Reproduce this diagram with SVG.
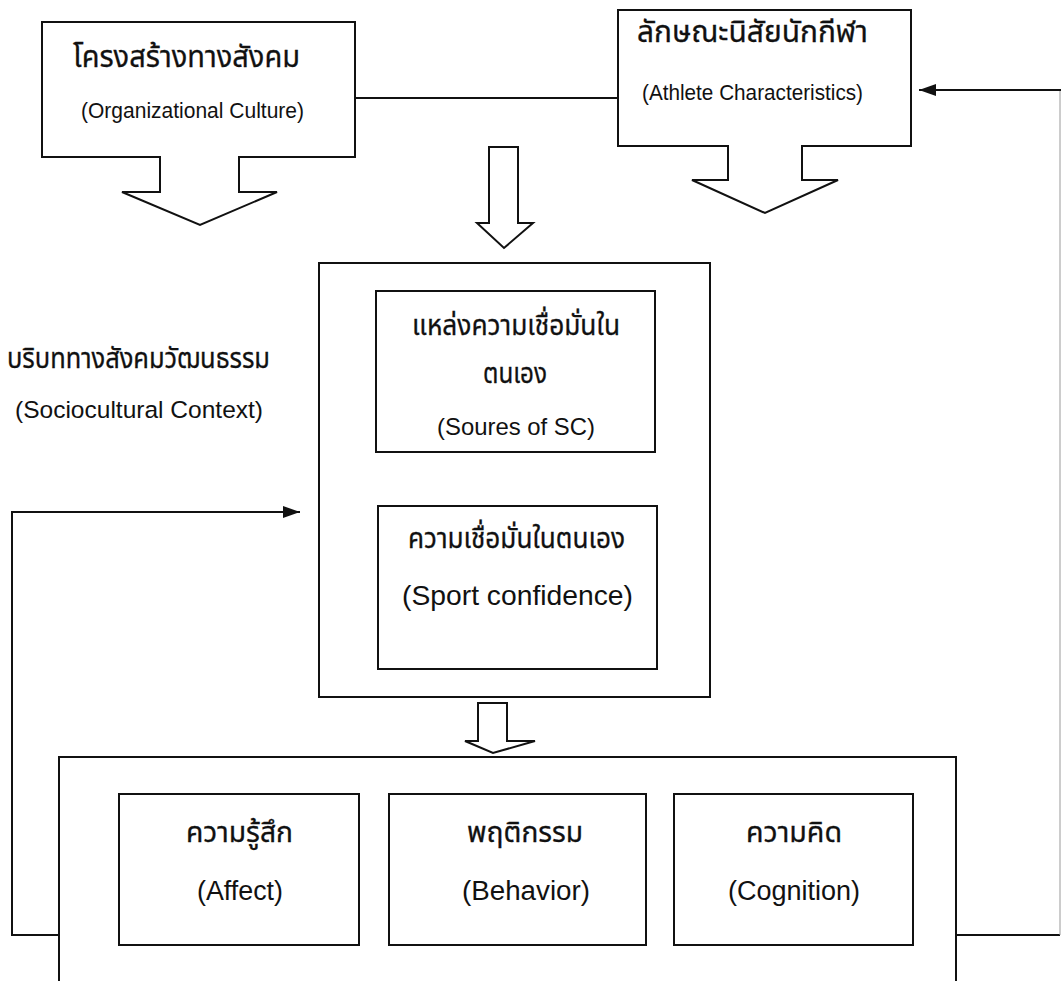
<svg xmlns="http://www.w3.org/2000/svg" width="1061" height="981" viewBox="0 0 1061 981">
<defs>
<style>
.box{fill:#fff;stroke:#111;stroke-width:2}
.ln{fill:none;stroke:#111;stroke-width:2}
.th{font-family:"Noto Sans Thai","Noto Sans","DejaVu Sans","Liberation Sans",sans-serif;fill:#111;stroke:#111;stroke-width:0.3}
.en{font-family:"Liberation Sans",Arial,sans-serif;fill:#111}
</style>
<marker id="ah" markerWidth="17" markerHeight="12" refX="17" refY="6" orient="auto" markerUnits="userSpaceOnUse">
<path d="M0,0 L17,6 L0,12 Z" fill="#111"/>
</marker>
</defs>
<rect width="1061" height="981" fill="#fff"/>

<g id="connectors">
<line class="ln" x1="355" y1="98" x2="618" y2="98"/>
<polyline class="ln" points="59,935 12,935 12,512 300,512" marker-end="url(#ah)"/>
<polyline class="ln" points="956,935 1060,935" />
<polyline class="ln" points="1060,935 1060,90" style="stroke:#999;stroke-width:1"/>
<line class="ln" x1="1061" y1="90" x2="919" y2="90" marker-end="url(#ah)"/>
<path id="arrow-top" class="box" d="M489,147 H518 V223 H533 L504,248 L477,223 H489 Z"/>
<path id="arrow-mid" class="box" d="M494,459 H521 V492 H535 L507,503 L478,492 H494 Z"/>
<path id="arrow-low" class="box" d="M478,703 H507 V741 H535 L493,753 L465,741 H478 Z"/>
</g>

<g id="org-culture">
<path class="box" d="M42,22 H355 V157 H239 V192 H277 L200,225 L122,192 H160 V157 H42 Z"/>
<text class="th" x="73" y="67" font-size="31" textLength="227" lengthAdjust="spacingAndGlyphs">โครงสร้างทางสังคม</text>
<text class="en" x="81" y="118" font-size="21.5" textLength="223" lengthAdjust="spacingAndGlyphs">(Organizational Culture)</text>
</g>

<g id="athlete">
<path class="box" d="M618,10 H911 V146 H802 V180 H838 L765,213 L692,180 H728 V146 H618 Z"/>
<text class="th" x="637" y="42" font-size="31" textLength="231" lengthAdjust="spacingAndGlyphs">ลักษณะนิสัยนักกีฬา</text>
<text class="en" x="642" y="100" font-size="21.5" textLength="221" lengthAdjust="spacingAndGlyphs">(Athlete Characteristics)</text>
</g>

<g id="sociocultural">
<text class="th" x="7" y="368" font-size="28" textLength="263" lengthAdjust="spacingAndGlyphs">บริบททางสังคมวัฒนธรรม</text>
<text class="en" x="15" y="418" font-size="24.5" textLength="248" lengthAdjust="spacingAndGlyphs">(Sociocultural Context)</text>
</g>

<g id="center">
<rect class="box" x="319" y="263" width="391" height="434"/>
</g>

<g id="sources">
<rect class="box" x="376" y="291" width="279" height="161"/>
<text class="th" x="412" y="335" font-size="28" textLength="208" lengthAdjust="spacingAndGlyphs">แหล่งความเชื่อมั่นใน</text>
<text class="th" x="483" y="383" font-size="28" textLength="64" lengthAdjust="spacingAndGlyphs">ตนเอง</text>
<text class="en" x="437" y="435" font-size="24" textLength="158" lengthAdjust="spacingAndGlyphs">(Soures of SC)</text>
</g>

<g id="sport-confidence">
<rect class="box" x="378" y="506" width="279" height="163"/>
<text class="th" x="408" y="548" font-size="28" textLength="217" lengthAdjust="spacingAndGlyphs">ความเชื่อมั่นในตนเอง</text>
<text class="en" x="402" y="605" font-size="28" textLength="231" lengthAdjust="spacingAndGlyphs">(Sport confidence)</text>
</g>

<g id="outcomes">
<rect class="box" x="59" y="757" width="897" height="240"/>
</g>

<g id="affect">
<rect class="box" x="119" y="794" width="240" height="151"/>
<text class="th" x="186" y="842" font-size="29" textLength="107" lengthAdjust="spacingAndGlyphs">ความรู้สึก</text>
<text class="en" x="197" y="900" font-size="27" textLength="86" lengthAdjust="spacingAndGlyphs">(Affect)</text>
</g>

<g id="behavior">
<rect class="box" x="389" y="794" width="257" height="151"/>
<text class="th" x="467" y="842" font-size="29" textLength="116" lengthAdjust="spacingAndGlyphs">พฤติกรรม</text>
<text class="en" x="462" y="900" font-size="27" textLength="128" lengthAdjust="spacingAndGlyphs">(Behavior)</text>
</g>

<g id="cognition">
<rect class="box" x="674" y="794" width="239" height="151"/>
<text class="th" x="746" y="842" font-size="29" textLength="96" lengthAdjust="spacingAndGlyphs">ความคิด</text>
<text class="en" x="728" y="900" font-size="27" textLength="132" lengthAdjust="spacingAndGlyphs">(Cognition)</text>
</g>
</svg>
